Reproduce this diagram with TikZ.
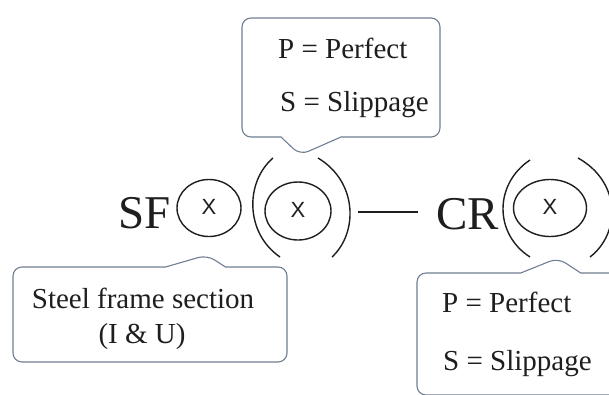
\documentclass[tikz,border=0pt]{standalone}
\usepackage{fontspec}
\setmainfont{Liberation Serif}
\newfontfamily\marksans{Liberation Sans}
\usepackage{xcolor}
\usetikzlibrary{shapes.geometric,shapes.callouts,positioning}
\definecolor{noteline}{RGB}{112,126,146}
\definecolor{inkline}{RGB}{30,30,30}

\begin{document}
\begin{tikzpicture}[
			x=1pt, y=-1pt,
			symbol/.style={
				inner sep=0pt,
				anchor=base west,
				text=inkline,
				font=\fontsize{47}{47}\selectfont
			},
			ring/.style={
				draw=inkline,
				ellipse,
				line width=1.4pt,
				inner sep=0pt,
				text=inkline,
				font=\marksans\fontsize{22}{22}\selectfont
			},
			bracket/.style={
				draw=inkline,
				line width=1.4pt
			},
			link/.style={
				draw=inkline,
				line width=1.4pt
			},
			note/.style={
				rectangle callout,
				draw=noteline,
				fill=white,
				line width=1.1pt,
				rounded corners=9pt,
				callout pointer width=60pt
			},
			notetext/.style={
				inner sep=0pt,
				anchor=base west,
				text=inkline,
				font=\fontsize{29}{29}\selectfont
			}
			]
			
			\clip (0,0) rectangle (609,394);
			
			%=====================================================================
			% Notation: SF (x) ((x)) -- CR((x))
			%=====================================================================
			
			\node[symbol] (sf) at (118,228) {SF};
			
			\node[ring, minimum width=64pt, minimum height=57pt] (sfkind)
			at (209,208) {\raisebox{3pt}{X}};
			
			\node[ring, minimum width=66pt, minimum height=58pt] (sfbond)
			at (298,211) {\raisebox{3pt}{X}};
			
			\draw[bracket] (273,158) .. controls (245,182) and (245,233) .. (280,257);
			\draw[bracket] (318,158) .. controls (358,182) and (358,233) .. (332,257);
			
			\coordinate (linkstart) at (358,212);
			\coordinate (linkend) at (418,212);
			\draw[link] (linkstart) -- (linkend);
			
			\node[symbol] (cr) at (436,229) {CR};
			
			\node[ring, minimum width=73pt, minimum height=57pt] (crbond)
			at (550,208) {\raisebox{3pt}{X}};
			
			\draw[bracket] (530,160) .. controls (494,184) and (494,234) .. (530,257);
			\draw[bracket] (578,158) .. controls (621,182) and (621,233) .. (590,257);
			
			%=====================================================================
			% Callouts
			%=====================================================================
			
			\node[note, minimum width=198pt, minimum height=119pt,
			callout absolute pointer={(300,155)}] (bondnote) at (341,77.5) {};
			\node[notetext] (perfectA) at (278,58) {P = Perfect};
			\node[notetext] (slipA) at (280,111) {S = Slippage};
			
			\node[note, minimum width=274pt, minimum height=95pt,
			callout absolute pointer={(207,255)}] (sectionnote) at (150,314.5) {};
			\node[notetext, anchor=base] (steelname) at (143,308) {Steel frame section};
			\node[notetext, anchor=base] (steelkind) at (142,343) {(I \& U)};
			
			\node[note, minimum width=208pt, minimum height=122pt,
			callout absolute pointer={(558,258)}] (crnote) at (521,334) {};
			\node[notetext] (perfectB) at (442,312) {P = Perfect};
			\node[notetext] (slipB) at (443,370) {S = Slippage};
			
		\end{tikzpicture}
\end{document}
